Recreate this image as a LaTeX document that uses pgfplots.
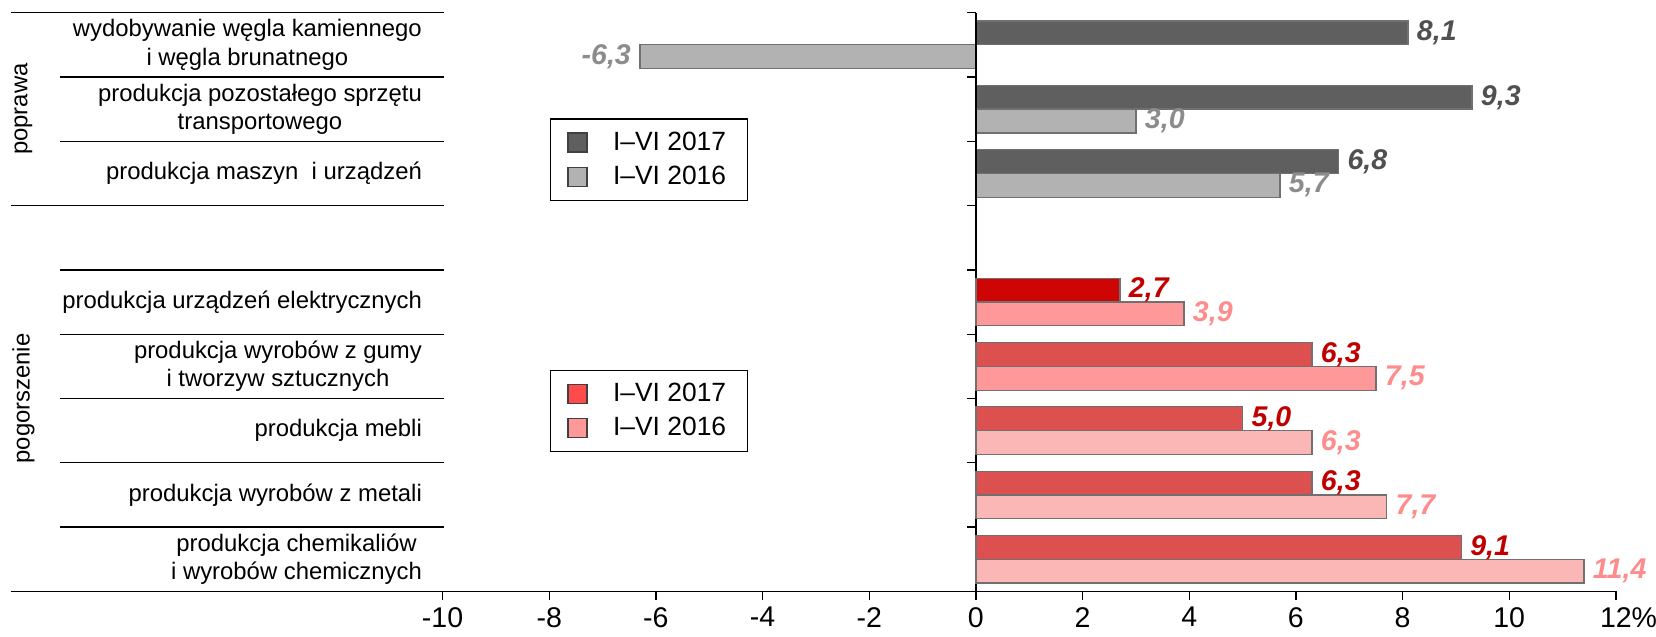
\documentclass[border=0pt]{standalone}
\usepackage{pgfplots}
\pgfplotsset{compat=1.18}
\usepackage{fontspec}
\setmainfont{Liberation Sans}

\definecolor{g17}{HTML}{5F5F5F}
\definecolor{g16}{HTML}{B2B2B2}
\definecolor{r17a}{HTML}{CF0505}
\definecolor{r17}{HTML}{DD5050}
\definecolor{r16a}{HTML}{FF9999}
\definecolor{r16}{HTML}{FBB6B6}
\definecolor{r17leg}{HTML}{FF4B4B}
\definecolor{lg17}{HTML}{505050}
\definecolor{lg16}{HTML}{8C8C8C}
\definecolor{lr17}{HTML}{C00000}
\definecolor{lr16}{HTML}{FF8C8C}
\definecolor{edge}{HTML}{707070}

\pgfplotsset{
  base/.style={
    scale only axis, width=760pt, height=274pt,
    xmin=-18.1, xmax=12, ymin=-0.5, ymax=8.5,
    clip=false,
    /pgf/number format/assume math mode=true,
    legend cell align=left,
    legend style={anchor=north west, draw=black, line width=0.6pt, fill=white,
      font=\fontsize{12.5}{14}\selectfont, inner xsep=8pt, inner ysep=4pt, row sep=2pt,
      /tikz/every odd column/.append style={column sep=10pt}},
  },
  bars/.style={xbar, bar width=0.37, draw=edge, line width=0.6pt, fill=#1},
  lab/.style={nodes near coords={\pgfmathprintnumber[use comma,fixed,fixed zerofill,precision=1]{\pgfplotspointmeta}},
    every node near coord/.append style={font=\fontsize{13.5}{14}\selectfont\bfseries\itshape, text=#1, anchor=west, inner sep=0pt, xshift=4pt}},
  up/.style={bar shift=0.185, every node near coord/.append style={yshift=5.6pt}},
  dn/.style={bar shift=-0.185, every node near coord/.append style={yshift=-5.6pt}},
  legimg/.style={legend image code/.code={\draw[draw=black!75, line width=0.6pt, ##1] (0pt,-4.5pt) rectangle (9pt,4.5pt);}},
}

\begin{document}
\begin{tikzpicture}
\begin{axis}[base,
  axis x line=bottom, axis y line=none, axis line style={-, line width=0.6pt},
  xtick={-10,-8,...,12},
  xticklabels={-10,-8,-6,-4,-2,0,2,4,6,8,10,12\rlap{\%}},
  tick align=outside, xtick style={black, line width=0.6pt}, major tick length=4pt,
  ytick=\empty,
  ticklabel style={font=\fontsize{13.5}{14}\selectfont},
  legend style={at={(0.336,0.8175)}},
]
  \addlegendimage{legimg, fill=g17}
  \addlegendimage{legimg, fill=g16}
  \addplot[bars=g17, up, lab=lg17] coordinates {(8.1,8) (9.3,7) (6.8,6)};
  \addplot[bars=g16, dn, lab=lg16] coordinates {(3.0,7) (5.7,6)};
  \addplot[bars=g16, dn, lab=lg16, every node near coord/.append style={anchor=east, xshift=-8pt}] coordinates {(-6.3,8)};
  \legend{I–VI 2017, I–VI 2016}

  % y axis at zero with ticks between categories
  \draw[line width=0.6pt] (axis cs:0,-0.5) -- (axis cs:0,8.5);
  \pgfplotsinvokeforeach{0.5,1.5,2.5,3.5,4.5,5.5,6.5,7.5,8.5}{
    \draw[line width=0.6pt] (axis cs:0,#1) -- ++(-4pt,0pt);
  }
  % separators of the label column
  \draw[line width=0.6pt] (axis cs:-18.1,8.5) -- (axis cs:-9.98,8.5);
  \draw[line width=0.6pt] (axis cs:-18.1,5.5) -- (axis cs:-9.98,5.5);
  \pgfplotsinvokeforeach{7.5,6.5,4.5,3.5,2.5,1.5,0.5}{
    \draw[line width=0.6pt] (axis cs:-17.17,#1) -- (axis cs:-9.98,#1);
  }
  % category labels
  \begin{scope}[every node/.style={anchor=east, align=center, font=\fontsize{11.3}{13.3}\selectfont, inner sep=0pt}]
    \node at (axis cs:-10.38,8) {wydobywanie węgla kamiennego\\i węgla brunatnego};
    \node at (axis cs:-10.38,7) {produkcja pozostałego sprzętu\\transportowego};
    \node at (axis cs:-10.38,6) {produkcja maszyn\ \ i urządzeń};
    \node at (axis cs:-10.38,4) {produkcja urządzeń elektrycznych};
    \node at (axis cs:-10.38,3) {produkcja wyrobów z gumy\\i tworzyw sztucznych};
    \node at (axis cs:-10.38,2) {produkcja mebli};
    \node at (axis cs:-10.38,1) {produkcja wyrobów z metali};
    \node at (axis cs:-10.38,0) {produkcja chemikaliów\\i wyrobów chemicznych};
  \end{scope}
  \node[rotate=90, font=\fontsize{11.3}{13.3}\selectfont] at (axis cs:-17.86,7.0) {poprawa};
  \node[rotate=90, font=\fontsize{11.3}{13.3}\selectfont] at (axis cs:-17.86,2.5) {pogorszenie};
\end{axis}

\begin{axis}[base, hide axis,
  legend style={at={(0.336,0.383)}},
]
  \addlegendimage{legimg, fill=r17leg}
  \addlegendimage{legimg, fill=r16a}
  \addplot[bars=r17a, up, lab=lr17] coordinates {(2.7,4)};
  \addplot[bars=r17, up, lab=lr17] coordinates {(6.3,3) (5.0,2) (6.3,1) (9.1,0)};
  \addplot[bars=r16a, dn, lab=lr16] coordinates {(3.9,4) (7.5,3)};
  \addplot[bars=r16, dn, lab=lr16] coordinates {(6.3,2) (7.7,1) (11.4,0)};
  \legend{I–VI 2017, I–VI 2016}
\end{axis}
\path ([xshift=-5pt,yshift=-21.5pt]current axis.south west) rectangle ([xshift=19pt,yshift=6pt]current axis.north east);
\end{tikzpicture}
\end{document}
